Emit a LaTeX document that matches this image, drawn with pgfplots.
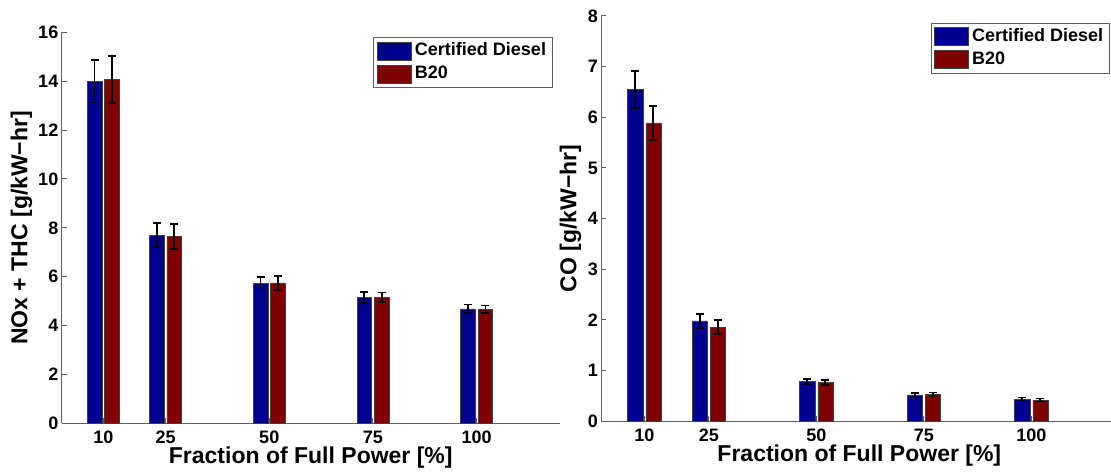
\documentclass[border=0pt]{standalone}
\usepackage{fontspec}
\setmainfont{Liberation Sans}
\usepackage{pgfplots}
\usepackage{pgfplotstable}
\pgfplotsset{compat=1.18}

\definecolor{dieselblue}{RGB}{0,0,143}
\definecolor{bred}{RGB}{128,0,0}
\definecolor{axisgray}{RGB}{95,95,95}

% NOx + THC emissions: bar positions, means and error half-widths
\pgfplotstableread{
x   xd    d      de    xb    b      be
10  7.9   14.00  0.87  12.1  14.06  0.96
25  22.9  7.70   0.49  27.1  7.66   0.51
50  47.9  5.73   0.25  52.1  5.75   0.29
75  72.9  5.14   0.22  77.1  5.16   0.19
100 97.9  4.68   0.18  102.1 4.67   0.15
}\noxdata

% CO emissions
\pgfplotstableread{
x   xd    d      de    xb    b      be
10  7.9   6.55   0.36  12.1  5.89   0.33
25  22.9  1.98   0.14  27.1  1.86   0.14
50  47.9  0.79   0.05  52.1  0.76   0.05
75  72.9  0.52   0.04  77.1  0.53   0.04
100 97.9  0.44   0.03  102.1 0.42   0.03
}\codata

\pgfplotsset{
  panel/.style={
    scale only axis,
    xmin=0, xmax=120, ymin=0,
    axis lines=left,
    axis line style={-, axisgray, line width=1.1pt},
    tick style={axisgray, line width=1pt},
    tick align=inside,
    major tick length=5pt,
    xtick={10,25,50,75,100},
    /pgf/number format/assume math mode=true,
    ticklabel style={font=\fontsize{18}{18}\selectfont\bfseries, text=black},
    xticklabel style={anchor=center, yshift=-14.4pt},
    label style={font=\fontsize{23}{23}\selectfont\bfseries},
    xlabel={Fraction of Full Power [\%]},
    xlabel style={at={(axis description cs:0.5,0)}, anchor=center, yshift=-34.7pt},
    legend style={
      draw=axisgray, line width=0.9pt,
      font=\fontsize{18}{18}\selectfont\bfseries,
      anchor=north east,
      cells={anchor=west},
      inner xsep=3pt, inner ysep=3pt,
      row sep=2pt,
      nodes={text height=13pt, text depth=4pt, inner ysep=2pt, inner xsep=3.5pt},
    },
  },
  barpatch/.style={
    legend image code/.code={
      \draw[##1, line width=0.6pt] (0pt,-9pt) rectangle (34pt,9pt);
    },
  },
  emisbar/.style={
    ybar, bar width=3.5, bar shift=0pt,
    draw=black!75, line width=0.6pt,
    barpatch,
    error bars/.cd,
      y dir=both, y explicit,
      error bar style={black, line width=1.8pt},
      error mark options={black, rotate=90, mark size=4pt, line width=1.8pt},
  },
}

\begin{document}
\begin{tikzpicture}
\useasboundingbox (0pt,0pt) rectangle (1111pt,472pt);
\clip (0pt,0pt) rectangle (1111pt,472pt);

% left: NOx + THC
\begin{axis}[
  panel,
  at={(61.8pt,48.7pt)}, anchor=south west,
  width=497.9pt, height=390.9pt,
  ymax=16, ytick={0,2,...,16},
  ylabel={NOx + THC [g/kW−hr]},
  ylabel style={at={(axis description cs:-0.0811,0.5)}, anchor=center},
  legend style={at={(0.9865,0.988)}},
]
\addplot[fill=dieselblue, emisbar] table[x=xd, y=d, y error=de] {\noxdata};
\addplot[fill=bred, emisbar] table[x=xb, y=b, y error=be] {\noxdata};
\legend{Certified Diesel, B20}
\end{axis}

% right: CO
\begin{axis}[
  panel,
  at={(601.3pt,50.7pt)}, anchor=south west,
  width=516pt, height=405.3pt,
  ymax=8, ytick={0,1,...,8},
  ylabel={CO [g/kW−hr]},
  ylabel style={at={(axis description cs:-0.0597,0.5)}, anchor=center},
  legend style={at={(0.986,0.9834)}},
]
\addplot[fill=dieselblue, emisbar] table[x=xd, y=d, y error=de] {\codata};
\addplot[fill=bred, emisbar] table[x=xb, y=b, y error=be] {\codata};
\legend{Certified Diesel, B20}
\end{axis}
\end{tikzpicture}
\end{document}
